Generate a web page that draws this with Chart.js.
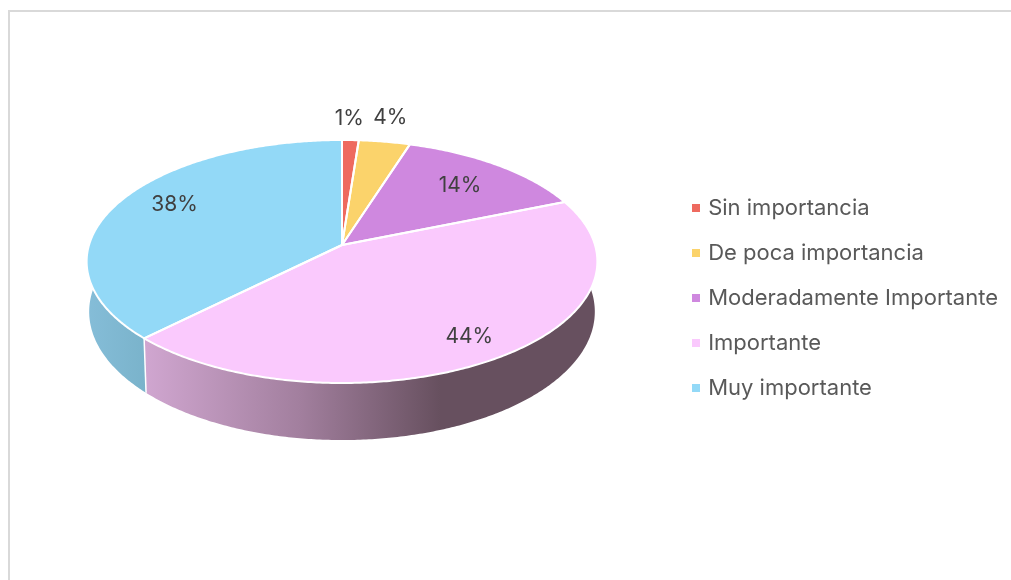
<!DOCTYPE html>
<html>
<head>
<meta charset="utf-8">
<script src="https://cdn.jsdelivr.net/npm/chart.js@4"></script>
<style>
    html, body { margin: 0; padding: 0; background: #fff; overflow: hidden; }
    #wrap { position: relative; width: 1011px; height: 580px; }
    #frame { position: absolute; left: 8px; top: 10px; right: 0; bottom: -4px; border-top: 2px solid #d9d9d9; border-left: 2px solid #d9d9d9; }
    #chart { position: absolute; left: 0; top: 0; }
</style>
</head>
<body>
<div id="wrap">
    <div id="frame"></div>
    <canvas id="chart" width="1011" height="580"></canvas>
</div>
<script>
const categories = ['Sin importancia', 'De poca importancia', 'Moderadamente Importante', 'Importante', 'Muy importante'];
const shares = [1.2, 3.7, 13.9, 43.7, 37.5];
const colors = ['#ee6a5f', '#fbd36b', '#cf88df', '#fac9fd', '#93d9f7'];
// wall shading of the only two slices that show a side
const wallStops = [
    null,
    null,
    null,
    [[145, '#d0a6d0'], [300, '#a27f9e'], [440, '#67505f'], [597, '#67505f']],
    [[87, '#85bdd8'], [145, '#7ab3cb']]
];
// small pixel corrections for the percentage labels
const labelNudge = [[-3, 3], [-4, 0], [-9, 6], [4, 4], [12, -5]];

// perspective of the tilted disc
const CX = 342, APEX_Y = 245, SCALE_X = 253, SCALE_Y = 119.26, TILT = 0.1358;
const DEPTH = 49.3, BOTTOM_SHRINK = 0.99;

function project(theta, r) {
    const u = r * Math.sin(theta);
    const v = -r * Math.cos(theta);
    const w = 1 - TILT * v;
    return { x: CX + SCALE_X * u / w, y: APEX_Y + SCALE_Y * v / w, w: w };
}

function bottomPoint(theta) {
    const p = project(theta, 1);
    return { x: CX + (p.x - CX) * BOTTOM_SHRINK, y: p.y + DEPTH / p.w };
}

function angleSteps(a, b) {
    const n = Math.max(2, Math.ceil((b - a) / 0.01));
    const out = [];
    for (let i = 0; i <= n; i++) out.push(a + (b - a) * i / n);
    return out;
}

function legendSquare(color) {
    const box = document.createElement('canvas');
    box.width = 8;
    box.height = 8;
    const g = box.getContext('2d');
    g.fillStyle = color;
    g.fillRect(0, 0, 8, 8);
    return box;
}

const pie3d = {
    id: 'pie3d',
    beforeDatasetsDraw(chart) {
        const c = chart.ctx;
        const arcs = chart.getDatasetMeta(0).data;
        const total = shares.reduce((a, b) => a + b, 0);
        const slices = arcs.map(arc => ({ a: arc.startAngle + Math.PI / 2, b: arc.endAngle + Math.PI / 2 }));

        // side walls
        slices.forEach((s, i) => {
            if (!wallStops[i]) return;
            const stops = wallStops[i];
            const grad = c.createLinearGradient(stops[0][0], 0, stops[stops.length - 1][0], 0);
            stops.forEach(st => grad.addColorStop((st[0] - stops[0][0]) / (stops[stops.length - 1][0] - stops[0][0]), st[1]));
            const steps = angleSteps(s.a, s.b).filter(t => -Math.cos(t) > -0.15);
            c.beginPath();
            steps.forEach((t, k) => {
                const p = project(t, 1);
                if (k === 0) c.moveTo(p.x, p.y); else c.lineTo(p.x, p.y);
            });
            steps.slice().reverse().forEach(t => {
                const p = bottomPoint(t);
                c.lineTo(p.x, p.y);
            });
            c.closePath();
            c.fillStyle = grad;
            c.fill();
        });

        // white seam where the two walls meet
        const seam = slices[4].a;
        const top = project(seam, 1), bot = bottomPoint(seam);
        c.beginPath();
        c.moveTo(top.x, top.y);
        c.lineTo(bot.x, bot.y);
        c.strokeStyle = '#ffffff';
        c.lineWidth = 1.5;
        c.stroke();

        // top of the disc, fills first so the white outlines stay whole
        const tracePath = s => {
            c.beginPath();
            c.moveTo(CX, APEX_Y);
            angleSteps(s.a, s.b).forEach(t => {
                const p = project(t, 1);
                c.lineTo(p.x, p.y);
            });
            c.closePath();
        };
        slices.forEach((s, i) => {
            tracePath(s);
            c.fillStyle = colors[i];
            c.fill();
        });
        slices.forEach(s => {
            tracePath(s);
            c.strokeStyle = '#ffffff';
            c.lineWidth = 2;
            c.lineJoin = 'round';
            c.stroke();
        });

        // percentage labels, small slices sit outside the disc
        c.fillStyle = '#404040';
        c.font = '21px Inter';
        c.textAlign = 'center';
        c.textBaseline = 'middle';
        slices.forEach((s, i) => {
            const share = shares[i] / total * 100;
            const p = project((s.a + s.b) / 2, share < 5 ? 1.27 : 0.8);
            c.fillText(Math.round(share) + '%', p.x + labelNudge[i][0], p.y + labelNudge[i][1]);
        });
        return false;
    }
};

new Chart(document.getElementById('chart'), {
    type: 'pie',
    data: {
        labels: categories,
        datasets: [{ data: shares, backgroundColor: colors, borderWidth: 0 }]
    },
    options: {
        responsive: false,
        animation: false,
        layout: { padding: { top: 16, right: 3 } },
        plugins: {
            tooltip: { enabled: false },
            legend: {
                position: 'right',
                labels: {
                    usePointStyle: true,
                    pointStyleWidth: 3,
                    boxHeight: 8,
                    padding: 23,
                    color: '#595959',
                    font: { family: 'Inter', size: 22 },
                    generateLabels(chart) {
                        const items = Chart.overrides.pie.plugins.legend.labels.generateLabels(chart);
                        items.forEach((item, i) => { item.pointStyle = legendSquare(colors[i]); });
                        return items;
                    }
                }
            }
        }
    },
    plugins: [pie3d]
});
</script>
</body>
</html>
